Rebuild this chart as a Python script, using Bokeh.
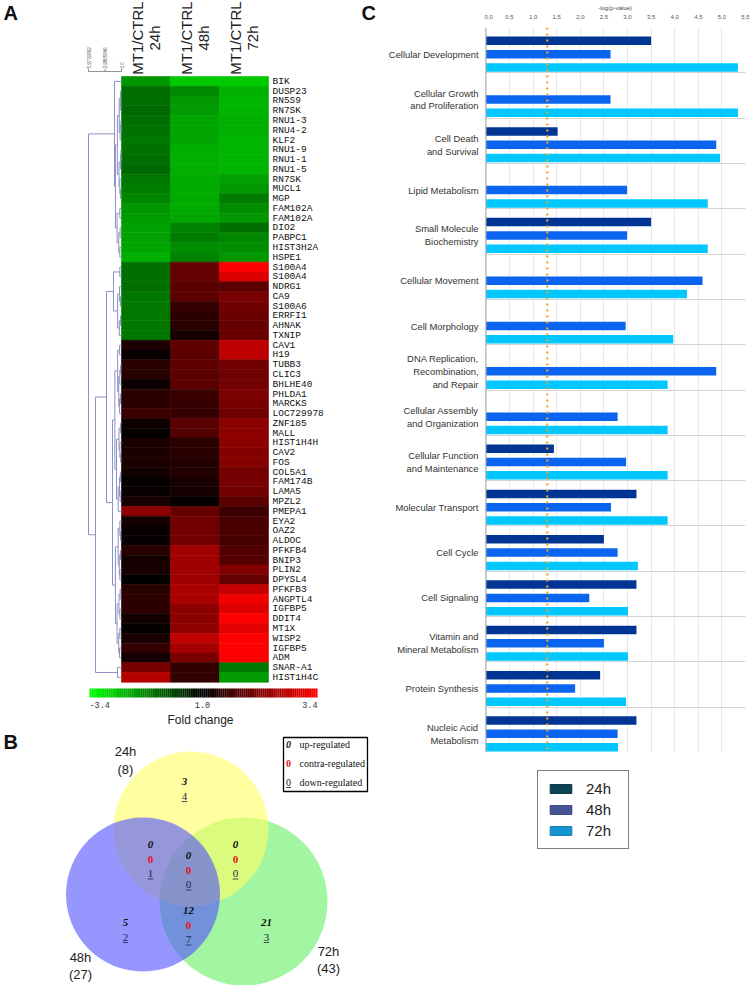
import math
import numpy as np
import pandas as pd
from bokeh.plotting import figure
from bokeh.models import (ColumnDataSource, Range1d, LinearColorMapper, FixedTicker,
                          CustomJSTickFormatter, Span, Label, Legend, LegendItem)
from bokeh.layouts import row, column
from bokeh.core.properties import value
from bokeh.embed import file_html
from bokeh.resources import INLINE

SANS = value("Liberation Sans")
MONO = value("Liberation Mono")
SERIF = value("Liberation Serif")

# ======================= DATA =======================
timepoints = ["24h", "48h", "72h"]

genes = ["BIK", "DUSP23", "RN5S9", "RN7SK", "RNU1-3", "RNU4-2", "KLF2", "RNU1-9", "RNU1-1",
         "RNU1-5", "RN7SK", "MUCL1", "MGP", "FAM102A", "FAM102A", "DIO2", "PABPC1", "HIST3H2A",
         "HSPE1", "S100A4", "S100A4", "NDRG1", "CA9", "S100A6", "ERRFI1", "AHNAK", "TXNIP",
         "CAV1", "H19", "TUBB3", "CLIC3", "BHLHE40", "PHLDA1", "MARCKS", "LOC729978", "ZNF185",
         "MALL", "HIST1H4H", "CAV2", "FOS", "COL5A1", "FAM174B", "LAMA5", "MPZL2", "PMEPA1",
         "EYA2", "OAZ2", "ALDOC", "PFKFB4", "BNIP3", "PLIN2", "DPYSL4", "PFKFB3", "ANGPTL4",
         "IGFBP5", "DDIT4", "MT1X", "WISP2", "IGFBP5", "ADM", "SNAR-A1", "HIST1H4C"]

# signed fold change (MT1/CTRL); negative = down-regulated
fc_24h = [-2.41, -2.04, -2.04, -1.99, -2.04, -2.08, -2.13, -2.08, -2.04, -1.99, -2.13, -2.18,
          -2.27, -2.41, -2.46, -2.51, -2.51, -2.55, -2.65,
          -2.04, -2.04, -2.04, -2.13, -2.13, -2.13, -2.13, -2.13,
          1.28, 1.09, 1.38, 1.38, 1.14, 1.38, 1.38, 1.56, 1.14, 1.05, 1.24, 1.28, 1.28, 1.19,
          1.05, 1.09, 1.24, 2.32, 1.19, 1.09, 1.09, 1.38, 1.19, 1.24, 1.00, 1.38, 1.42, 1.42,
          1.19, 1.05, 1.24, 1.47, 1.19, 2.13, 2.69]
fc_48h = [-2.88, -2.28, -2.41, -2.46, -2.55, -2.55, -2.55, -2.65, -2.65, -2.65, -2.60, -2.60,
          -2.60, -2.60, -2.55, -2.22, -2.18, -2.32, -2.22,
          1.94, 1.94, 1.85, 1.89, 1.52, 1.42, 1.38, 1.19,
          1.89, 1.85, 1.89, 1.85, 1.85, 1.56, 1.52, 1.52, 1.85, 1.80, 1.38, 1.38, 1.33, 1.33,
          1.24, 1.19, 1.05, 1.94, 2.08, 2.08, 2.08, 2.51, 2.51, 2.51, 2.51, 2.60, 2.60, 2.32,
          2.32, 2.32, 2.79, 2.55, 2.13, 1.47, 1.47]
fc_72h = [-2.88, -2.66, -2.69, -2.69, -2.65, -2.65, -2.69, -2.69, -2.69, -2.69, -2.51, -2.41,
          -2.18, -2.32, -2.41, -2.04, -2.27, -2.32, -2.41,
          3.40, 3.07, 1.85, 2.13, 2.08, 1.99, 1.94, 1.99,
          2.79, 2.79, 2.08, 2.04, 2.08, 2.18, 2.13, 2.04, 2.32, 2.32, 2.32, 2.22, 2.27, 2.08,
          2.13, 2.08, 1.85, 1.56, 1.66, 1.71, 1.66, 1.75, 1.80, 2.22, 1.94, 2.84, 3.26, 3.07,
          3.40, 3.12, 3.40, 3.40, 3.40, -2.13, -2.46]
FC_MAX = 3.4
colorbar_labels = ["-3.4", "1.0", "3.4"]

# hierarchical clustering tree of the rows: (height, left, right); leaves = row index
DEND_MAX = 5.9731892
dend_scale = [5.9731892, 2.9865946, 0.0]
G1a = (0.75, (0.4, (0.2, 1, (0.15, 2, 3)), (0.25, (0.1, 4, 5), 6)),
       (0.45, (0.2, (0.1, 7, 8), 9), (0.3, 10, (0.2, 11, 12))))
G1b = (0.8, (0.3, 13, 14), (0.5, (0.25, 15, 16), (0.3, 17, 18)))
G = (1.27, 0, (1.1, G1a, G1b))
U = (1.45, (0.3, 19, 20), (0.7, (0.35, 21, (0.2, 22, 23)), (0.4, (0.2, 24, 25), 26)))
C1 = (1.2, (0.7, (0.35, 27, 28), (0.5, (0.3, (0.15, 29, 30), 31), (0.35, (0.2, 32, 33), 34))),
      (0.9, (0.45, (0.2, 35, 36), (0.3, 37, (0.15, 38, 39))),
       (0.6, (0.35, (0.2, 40, 41), (0.25, 42, 43)), 44)))
C2 = (1.1, (0.6, (0.3, 45, (0.15, 46, 47)), (0.4, (0.2, 48, 49), (0.3, 50, 51))),
      (0.8, (0.45, (0.25, 52, 53), (0.3, 54, 55)), (0.5, (0.3, 56, 57), (0.35, 58, 59))))
tree = (DEND_MAX, G, (4.71, (2.71, U, (1.63, C1, C2)), (0.72, 60, 61)))

# Venn diagram counts
venn_sets = ["24h", "48h", "72h"]
venn_totals = [8, 27, 43]
venn_regions = ["24h only", "24h & 48h", "24h & 48h & 72h", "24h & 72h", "48h & 72h",
                "48h only", "72h only"]
venn_up = [3, 0, 0, 0, 12, 5, 21]
venn_contra = [None, 0, 0, 0, 0, None, None]
venn_down = [4, 1, 0, 0, 7, 2, 3]

# IPA functional categories, -log(p-value)
categories = ["Cellular Development", "Cellular Growth\nand Proliferation",
              "Cell Death\nand Survival", "Lipid Metabolism", "Small Molecule\nBiochemistry",
              "Cellular Movement", "Cell Morphology",
              "DNA Replication,\nRecombination,\nand Repair",
              "Cellular Assembly\nand Organization", "Cellular Function\nand Maintenance",
              "Molecular Transport", "Cell Cycle", "Cell Signaling",
              "Vitamin and\nMineral Metabolism", "Protein Synthesis",
              "Nucleic Acid\nMetabolism"]
logp_24h = [3.50, None, 1.52, None, 3.50, None, None, None, None, 1.44, 3.19, 2.50, 3.19,
            3.19, 2.42, 3.19]
logp_48h = [2.64, 2.64, 4.88, 2.99, 2.99, 4.59, 2.96, 4.88, 2.79, 2.97, 2.65, 2.79, 2.19,
            2.50, 1.89, 2.79]
logp_72h = [5.34, 5.34, 4.96, 4.70, 4.70, 4.26, 3.97, 3.85, 3.85, 3.85, 3.85, 3.22, 3.01,
            3.01, 2.97, 2.80]
threshold = 1.3
x_ticks = [0.0, 0.5, 1.0, 1.5, 2.0, 2.5, 3.0, 3.5, 4.0, 4.5, 5.0, 5.5]

# ======================= PANEL A: heatmap =======================
CW, RH, X0, Y0 = 49.0, 9.77, 121.0, 76.0   # column width / row height / origin (px)
A_H = 730


def ax(px):
    return (px - X0) / CW


def ay(py):
    return (py - Y0) / RH


palette = (["#00%02x00" % int(round(255 * (1 - i / 127))) for i in range(128)] +
           ["#%02x0000" % int(round(255 * i / 127)) for i in range(128)])
mapper = LinearColorMapper(palette=palette, low=-1, high=1)


def fc_to_t(v):
    return math.copysign((abs(v) - 1) / (FC_MAX - 1), v)


recs = []
for c, series in enumerate([fc_24h, fc_48h, fc_72h]):
    for i, v in enumerate(series):
        recs.append(dict(x=c + 0.5, y=i + 0.5, fc=v, t=fc_to_t(v), gene=genes[i],
                         time=timepoints[c]))
hm = pd.DataFrame(recs)

pA = figure(width=380, height=A_H, x_range=Range1d(ax(0), ax(380)),
            y_range=Range1d(ay(A_H), ay(0)), output_backend="svg", toolbar_location=None,
            x_axis_location=None, y_axis_location=None, min_border=0)
pA.grid.visible = False
pA.outline_line_color = None

pA.rect(x="x", y="y", width=1, height=1, source=ColumnDataSource(hm),
        fill_color={"field": "t", "transform": mapper},
        line_color={"field": "t", "transform": mapper}, line_width=0.6)

# column headers
pA.text(x=[c + 0.5 for c in range(3)], y=[ay(37.5)] * 3,
        text=["MT1/CTRL\n" + t for t in timepoints], angle=math.pi / 2,
        text_align="center", text_baseline="middle", text_font=SANS,
        text_font_size="15px", text_line_height=1.05, text_color="#222222")

# gene labels
pA.text(x=[ax(272)] * len(genes), y=[i + 0.5 for i in range(len(genes))], text=genes,
        text_align="left", text_baseline="middle", text_font=MONO,
        text_font_size="9.5px", text_color="#111111")

# dendrogram
DW = (X0 - 88.0) / CW


def hx(h):
    return -h / DEND_MAX * DW


segs = []


def walk(node):
    if isinstance(node, int):
        return node + 0.5, 0.0
    h, a, b = node
    ya, ha = walk(a)
    yb, hb = walk(b)
    segs.append((hx(ha), ya, hx(h), ya))
    segs.append((hx(hb), yb, hx(h), yb))
    segs.append((hx(h), ya, hx(h), yb))
    return (ya + yb) / 2, h


walk(tree)
sg = np.array(segs)
pA.segment(x0=sg[:, 0], y0=sg[:, 1], x1=sg[:, 2], y1=sg[:, 3], line_color="#8a8fc6",
           line_width=1)

# dendrogram scale bar
sb_y = ay(71)
pA.segment(x0=[hx(dend_scale[0])], y0=[sb_y], x1=[hx(0)], y1=[sb_y], line_color="#777777",
           line_width=0.8)
pA.segment(x0=[hx(v) for v in dend_scale], y0=[sb_y] * 3, x1=[hx(v) for v in dend_scale],
           y1=[ay(68.5)] * 3, line_color="#777777", line_width=0.8)
pA.text(x=[hx(v) for v in dend_scale], y=[ay(68)] * 3, text=[str(v) for v in dend_scale],
        angle=math.pi / 2, text_align="left", text_baseline="middle", text_font=SANS,
        text_font_size="4.5px", text_color="#555555")

# colour scale bar
NCB = 120
cb_edges = np.linspace(ax(89), ax(317), NCB + 1)
cb_src = ColumnDataSource(dict(x=(cb_edges[:-1] + cb_edges[1:]) / 2,
                               t=np.linspace(-1, 1, NCB)))
pA.rect(x="x", y=(ay(688) + ay(697)) / 2, width=cb_edges[1] - cb_edges[0] + 0.002,
        height=ay(697) - ay(688), source=cb_src,
        fill_color={"field": "t", "transform": mapper}, line_color=None)
pA.text(x=[ax(89), ax(202), ax(317)], y=[ay(704)] * 3, text=colorbar_labels,
        text_align=["left", "center", "right"], text_baseline="middle", text_font=MONO,
        text_font_size="8.5px", text_color="#333333")
pA.text(x=[ax(200)], y=[ay(719)], text=["Fold change"], text_align="center",
        text_baseline="middle", text_font=SANS, text_font_size="12px", text_color="#222222")

# panel letters
pA.text(x=[ax(3), ax(361)], y=[ay(1), ay(1)], text=["A", "C"], text_align="left",
        text_baseline="top", text_font=SANS, text_font_style="bold", text_font_size="20px",
        text_color="#111111")

# ======================= PANEL B: Venn =======================
pB = figure(width=380, height=985 - A_H, x_range=Range1d(0, 380),
            y_range=Range1d(985, A_H), output_backend="svg", toolbar_location=None,
            x_axis_location=None, y_axis_location=None, min_border=0)
pB.grid.visible = False
pB.outline_line_color = None

circ = dict(x=[243, 190.5, 142.5], y=[901, 828.5, 894], r=[84, 77.5, 77],
            color=["#64f064", "#ffff64", "#5050ff"], name=["72h", "24h", "48h"])
pB.circle(x="x", y="y", radius="r", fill_color="color", fill_alpha=0.6, line_color=None,
          source=ColumnDataSource(circ))

# set labels
set_pos = {"24h": (125, 760), "48h": (80, 965.5), "72h": (328, 959.5)}
pB.text(x=[set_pos[s][0] for s in venn_sets], y=[set_pos[s][1] for s in venn_sets],
        text=["%s\n(%d)" % (s, n) for s, n in zip(venn_sets, venn_totals)],
        text_align="center", text_baseline="middle", text_font=SANS, text_font_size="13px",
        text_line_height=1.15, text_color="#222222")

region_pos = {"24h only": (184, 781), "24h & 48h": (150, 844),
              "24h & 48h & 72h": (188, 855), "24h & 72h": (235, 844),
              "48h & 72h": (188, 910), "48h only": (125, 922), "72h only": (266, 922)}
LS = 14.5
ux, uy, ut, cx, cy, ct, dx, dy, dt = [], [], [], [], [], [], [], [], []
for reg, u, c, d in zip(venn_regions, venn_up, venn_contra, venn_down):
    x, y = region_pos[reg]
    ux.append(x); uy.append(y); ut.append(str(u))
    k = 1
    if c is not None:
        cx.append(x); cy.append(y + LS); ct.append(str(c))
        k = 2
    dx.append(x); dy.append(y + k * LS); dt.append(str(d))
pB.text(x=ux, y=uy, text=ut, text_align="center", text_baseline="middle", text_font=SERIF,
        text_font_style="bold italic", text_font_size="11px", text_color="#111111")
pB.text(x=cx, y=cy, text=ct, text_align="center", text_baseline="middle", text_font=SERIF,
        text_font_style="bold", text_font_size="11px", text_color="#e8101a")
pB.text(x=dx, y=dy, text=dt, text_align="center", text_baseline="middle", text_font=SERIF,
        text_font_size="11px", text_color="#222244")
uw = [2.8 * len(t) for t in dt]
pB.segment(x0=[x - w for x, w in zip(dx, uw)], y0=[y + 5.5 for y in dy],
           x1=[x + w for x, w in zip(dx, uw)], y1=[y + 5.5 for y in dy],
           line_color="#222244", line_width=0.8)

# key box
pB.rect(x=[325], y=[764], width=84, height=54, fill_color="white", line_color="black",
        line_width=1.3)
key_y = [744, 763, 782]
pB.text(x=[288], y=[key_y[0]], text=["0"], text_align="center", text_baseline="middle",
        text_font=SERIF, text_font_style="bold italic", text_font_size="10px",
        text_color="#111111")
pB.text(x=[288], y=[key_y[1]], text=["0"], text_align="center", text_baseline="middle",
        text_font=SERIF, text_font_style="bold", text_font_size="10px", text_color="#e8101a")
pB.text(x=[288], y=[key_y[2]], text=["0"], text_align="center", text_baseline="middle",
        text_font=SERIF, text_font_size="10px", text_color="#111111")
pB.segment(x0=[285.5], y0=[key_y[2] + 5], x1=[290.5], y1=[key_y[2] + 5], line_color="#111111",
           line_width=0.8)
pB.text(x=[299] * 3, y=key_y, text=["up-regulated", "contra-regulated", "down-regulated"],
        text_align="left", text_baseline="middle", text_font=SERIF, text_font_size="10px",
        text_color="#111111")
pB.text(x=[3], y=[730], text=["B"], text_align="left", text_baseline="top", text_font=SANS,
        text_font_style="bold", text_font_size="20px", text_color="#111111")

# ======================= PANEL C: bar chart =======================
NG = len(categories)
GH = 34          # y-units per category group
SLOT = 10        # y-units per bar slot
bar_colors = {"24h": "#003594", "48h": "#0a64f0", "72h": "#00c8ff"}
yr = Range1d(NG * GH, 0)

AX_STYLE = dict(axis_label_text_font_size="6px", axis_label_text_font_style="normal",
                axis_label_text_font="Liberation Sans", axis_label_standoff=1,
                major_label_text_font_size="6px", major_label_text_font="Liberation Sans",
                major_label_standoff=3, axis_line_color=None, major_tick_line_color=None,
                minor_tick_line_color=None)

pC = figure(width=268, height=760, x_range=Range1d(-0.03, 5.5), y_range=yr,
            x_axis_location="above", y_axis_location=None, output_backend="svg",
            toolbar_location=None, min_border_left=0, min_border_right=7,
            min_border_top=27, min_border_bottom=8)
pC.outline_line_color = None

for k, (tp, vals) in enumerate(zip(timepoints, [logp_24h, logp_48h, logp_72h])):
    d = pd.DataFrame(dict(cat=categories, v=vals, g=range(NG))).dropna()
    d["y"] = d["g"] * GH + (k + 1) * SLOT
    pC.hbar(y="y", left=0, right="v", height=6.4, source=ColumnDataSource(d),
            fill_color=bar_colors[tp], line_color=None)

pC.xaxis.update(**AX_STYLE)
pC.xaxis.ticker = FixedTicker(ticks=x_ticks)
pC.xaxis.formatter = CustomJSTickFormatter(code="return tick.toFixed(1).replace('.', ',')")
pC.xaxis.axis_label = "-log(p-value)"
pC.xaxis.axis_label_text_color = "#444444"
pC.xaxis.major_label_text_color = "#555555"

pC.xgrid.ticker = FixedTicker(ticks=x_ticks)
pC.xgrid.grid_line_color = "#e8e8e8"
pC.ygrid.ticker = FixedTicker(ticks=[g * GH for g in range(1, NG)])
pC.ygrid.grid_line_color = "#d4d4d4"

pC.add_layout(Span(location=0, dimension="height", line_color="#b0b0b0", line_width=1.2))
pC.add_layout(Span(location=threshold, dimension="height", line_color="#f5a020",
                   line_dash="dotted", line_width=2.2))
pC.add_layout(Label(x=threshold, y=-6.5, x_offset=2, text="Threshold", text_font_size="5px",
                    text_color="#f2a23a", text_baseline="middle", text_align="left"))

# category labels (strip left of panel C, sharing its y scale)
pCL = figure(width=104, height=760, x_range=Range1d(0, 104), y_range=yr,
             x_axis_location="above", y_axis_location=None, output_backend="svg",
             toolbar_location=None, min_border_left=0, min_border_right=0,
             min_border_top=27, min_border_bottom=8)
pCL.outline_line_color = None
pCL.grid.visible = False
pCL.xaxis.update(**AX_STYLE)
pCL.xaxis.ticker = FixedTicker(ticks=[50])
pCL.xaxis.major_label_overrides = {50: "0,0"}
pCL.xaxis.axis_label = "-log(p-value)"
pCL.xaxis.major_label_text_alpha = 0
pCL.xaxis.axis_label_text_alpha = 0
pCL.text(x=[98] * NG, y=[g * GH + 2 * SLOT for g in range(NG)], text=categories,
         text_align="right", text_baseline="middle", text_font=SANS,
         text_font_size="9.4px", text_line_height=1.17, text_color="#333333")

# legend (strip below panel C)
pL = figure(width=372, height=225, x_range=Range1d(0, 1), y_range=Range1d(0, 1),
            output_backend="svg", toolbar_location=None, x_axis_location=None,
            y_axis_location=None, min_border_left=157, min_border_top=10, min_border_right=0,
            min_border_bottom=0)
pL.grid.visible = False
pL.outline_line_color = None
legend_colors = {"24h": ("#0a4655", "#06303a"), "48h": ("#465596", "#34427a"),
                 "72h": ("#1496d2", "#0f78a8")}
items = []
for tp in timepoints:
    fc, lc = legend_colors[tp]
    r = pL.rect(x=[-5], y=[-5], width=0.1, height=0.1, fill_color=fc, line_color=lc)
    items.append(LegendItem(label=tp, renderers=[r]))
pL.add_layout(Legend(items=items, location="top_left", margin=0, padding=9, spacing=4,
                     glyph_width=27, glyph_height=11, label_height=17, label_width=33,
                     label_standoff=12, label_text_font="Liberation Sans",
                     label_text_font_size="15px", label_text_color="#222222",
                     border_line_color="black", border_line_width=1.5,
                     background_fill_alpha=1.0))

layout = row(column(pA, pB), column(row(pCL, pC), pL))
open("out.html", "w").write(file_html(layout, INLINE))
